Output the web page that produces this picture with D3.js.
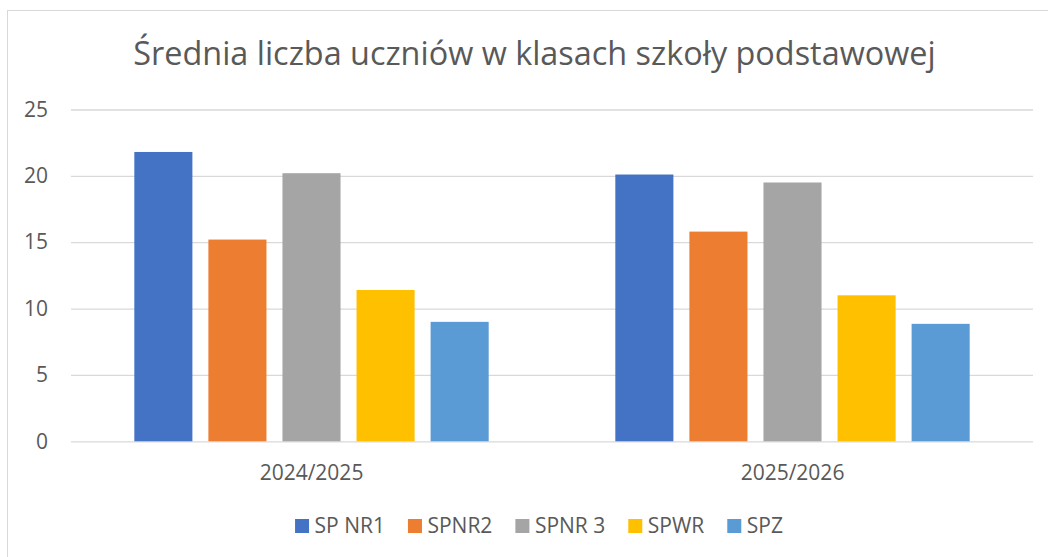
<!DOCTYPE html>
<html>
<head>
<meta charset="utf-8">
<script src="https://cdn.jsdelivr.net/npm/d3@7"></script>
<style>
  body { margin: 0; background: #fff; }
  text { font-family: "Open Sans", sans-serif; fill: #595959; }
</style>
</head>
<body>
<script>
// dane
var years = ["2024/2025", "2025/2026"];
var schools = ["SP NR1", "SPNR2", "SPNR 3", "SPWR", "SPZ"];
var spNr1 = [21.8, 20.1];
var spNr2 = [15.2, 15.8];
var spNr3 = [20.2, 19.5];
var spWr = [11.4, 11.0];
var spZ = [9.0, 8.85];
var yTicks = [0, 5, 10, 15, 20, 25];

var colors = ["#4472C4", "#ED7D31", "#A5A5A5", "#FFC000", "#5B9BD5"];
var values = [spNr1, spNr2, spNr3, spWr, spZ];

var dataFix = [];
for (var i = 0; i < years.length; i++) {
  for (var j = 0; j < schools.length; j++) {
    dataFix.push({ year: years[i], school: schools[j], val: values[j][i] });
  }
}

var width = 1048, height = 557;
var canvas = d3.select("body").append("svg").attr("width", width).attr("height", height);

// ramka wykresu
canvas.append("rect")
  .attr("x", 7.5).attr("y", 10.5)
  .attr("width", 1200).attr("height", 700)
  .attr("fill", "#fff").attr("stroke", "#d9d9d9").attr("stroke-width", 1);

// tytuł
canvas.append("text")
  .attr("x", 534.5).attr("y", 65)
  .attr("text-anchor", "middle")
  .style("font-size", "32.4px")
  .text("Średnia liczba uczniów w klasach szkoły podstawowej");

var plotLeft = 71, plotRight = 1033, plotTop = 109.5, plotBottom = 441.3;

var x0 = d3.scaleBand().domain(years).range([plotLeft, plotRight]).paddingInner(0.23).paddingOuter(0.115);
var x1 = d3.scaleBand().domain(schools).range([0, x0.bandwidth()]).paddingInner(0.216).paddingOuter(0.108);
var yScale = d3.scaleLinear().domain([0, 25]).range([plotBottom, plotTop]);
var color = d3.scaleOrdinal().domain(schools).range(colors);

// siatka + oś Y
var yAxis = canvas.append("g")
  .attr("transform", "translate(" + plotLeft + ",0)")
  .call(d3.axisLeft(yScale).tickValues(yTicks).tickSize(-(plotRight - plotLeft)).tickPadding(23));
yAxis.select(".domain").remove();
yAxis.selectAll("line").attr("stroke", "#d9d9d9").attr("stroke-width", 1.3);
yAxis.selectAll("text").style("font-size", "21px").style("font-family", "Open Sans").attr("fill", "#595959");

// słupki
canvas.append("g").selectAll("rect").data(dataFix)
  .enter()
  .append("rect")
  .attr("x", function(d) { return x0(d.year) + x1(d.school); })
  .attr("y", function(d) { return yScale(d.val); })
  .attr("width", x1.bandwidth())
  .attr("height", function(d) { return plotBottom - yScale(d.val); })
  .attr("fill", function(d) { return color(d.school); });

// oś X
var xAxis = canvas.append("g")
  .attr("transform", "translate(0," + plotBottom + ")")
  .call(d3.axisBottom(x0).tickSize(0).tickPadding(0));
xAxis.select(".domain").remove();
xAxis.selectAll("text")
  .attr("dy", null).attr("y", 38.7)
  .style("font-size", "21px").style("font-family", "Open Sans").attr("fill", "#595959");

// legenda
var legend = canvas.append("g");
var lx = 0;
schools.forEach(function(s, k) {
  var g = legend.append("g").attr("transform", "translate(" + lx + ",0)");
  g.append("rect").attr("x", 0).attr("y", -14).attr("width", 14).attr("height", 14).attr("fill", colors[k]);
  var t = g.append("text").attr("x", 19.5).attr("y", 0).style("font-size", "21px").text(s);
  var w = t.node().getComputedTextLength();
  lx += 19.5 + w + 23;
});
var legendW = lx - 23;
legend.attr("transform", "translate(" + (539 - legendW / 2) + ",533)");
</script>
</body>
</html>
